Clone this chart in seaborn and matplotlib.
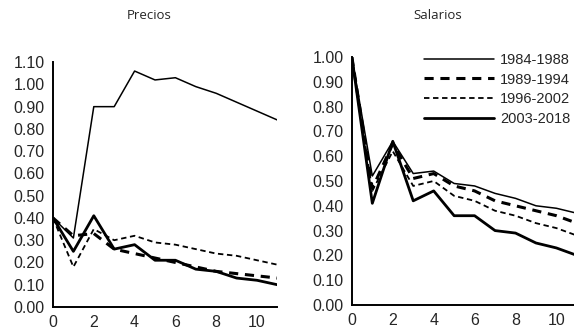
import numpy as np
import pandas as pd
import matplotlib
matplotlib.use("Agg")
import matplotlib.pyplot as plt
import seaborn as sns

horizon = list(range(12))
periods = ["1984-1988", "1989-1994", "1996-2002", "2003-2018"]

precios_1984_1988 = [0.40, 0.31, 0.90, 0.90, 1.06, 1.02, 1.03, 0.99, 0.96, 0.92, 0.88, 0.84]
precios_1989_1994 = [0.40, 0.32, 0.33, 0.26, 0.24, 0.22, 0.20, 0.18, 0.16, 0.15, 0.14, 0.13]
precios_1996_2002 = [0.40, 0.18, 0.35, 0.30, 0.32, 0.29, 0.28, 0.26, 0.24, 0.23, 0.21, 0.19]
precios_2003_2018 = [0.40, 0.25, 0.41, 0.26, 0.28, 0.21, 0.21, 0.17, 0.16, 0.13, 0.12, 0.10]

salarios_1984_1988 = [1.00, 0.52, 0.66, 0.53, 0.54, 0.49, 0.48, 0.45, 0.43, 0.40, 0.39, 0.37]
salarios_1989_1994 = [1.00, 0.47, 0.65, 0.51, 0.53, 0.48, 0.46, 0.42, 0.40, 0.38, 0.36, 0.33]
salarios_1996_2002 = [1.00, 0.46, 0.62, 0.48, 0.50, 0.44, 0.42, 0.38, 0.36, 0.33, 0.31, 0.28]
salarios_2003_2018 = [1.00, 0.41, 0.66, 0.42, 0.46, 0.36, 0.36, 0.30, 0.29, 0.25, 0.23, 0.20]

precios = [precios_1984_1988, precios_1989_1994, precios_1996_2002, precios_2003_2018]
salarios = [salarios_1984_1988, salarios_1989_1994, salarios_1996_2002, salarios_2003_2018]

styles = {
    "1984-1988": dict(lw=1.1, ls="-"),
    "1989-1994": dict(lw=2.2, ls=(0, (3.0, 2.2))),
    "1996-2002": dict(lw=1.3, ls=(0, (3.0, 2.0))),
    "2003-2018": dict(lw=2.0, ls="-"),
}

sns.set_theme(style="white")
plt.rcParams["font.family"] = ["Liberation Sans", "DejaVu Sans"]

fig = plt.figure(figsize=(5.74, 3.30), dpi=100)
ax1 = fig.add_axes([0.0923, 0.0697, 0.391, 0.742])
ax2 = fig.add_axes([0.613, 0.0758, 0.392, 0.7515])


def draw(ax, series, ymax, yticks, title):
    for name, vals in zip(periods, series):
        df = pd.DataFrame({"h": horizon, "v": vals})
        st = styles[name]
        sns.lineplot(data=df, x="h", y="v", ax=ax, color="black",
                     linewidth=st["lw"], linestyle=st["ls"], label=name)
    ax.set_xlim(0, 11)
    ax.set_ylim(0, ymax)
    ax.set_yticks(yticks)
    ax.set_yticklabels([f"{t:.2f}" for t in yticks], fontsize=11.5)
    ax.set_xticks(range(0, 12))
    ax.set_xticklabels([str(i) if i % 2 == 0 else "" for i in range(12)], fontsize=11.5)
    ax.set_xlabel("")
    ax.set_ylabel("")
    for s in ["top", "right"]:
        ax.spines[s].set_visible(False)
    for s in ["left", "bottom"]:
        ax.spines[s].set_color("black")
        ax.spines[s].set_linewidth(1.4)
    ax.tick_params(axis="y", direction="out", length=4, width=1.2, color="black", pad=2)
    ax.tick_params(axis="x", direction="inout", length=5, width=1.2, color="black", pad=3)
    ax.set_title(title, fontsize=9.5, pad=0, y=1.0, family=["Open Sans", "DejaVu Sans"])


draw(ax1, precios, 1.10, np.round(np.arange(0, 1.101, 0.1), 2), "Precios")
draw(ax2, salarios, 1.00, np.round(np.arange(0, 1.001, 0.1), 2), "Salarios")

ax1.title.set_position((0.43, 1.175))
ax2.title.set_position((0.38, 1.155))

ax1.get_legend().remove()
leg = ax2.legend(loc="upper right", bbox_to_anchor=(1.03, 1.07), frameon=False,
                 fontsize=10.5, handlelength=4.8, handletextpad=0.4, labelspacing=0.4)

fig.savefig("out.png", dpi=100)
